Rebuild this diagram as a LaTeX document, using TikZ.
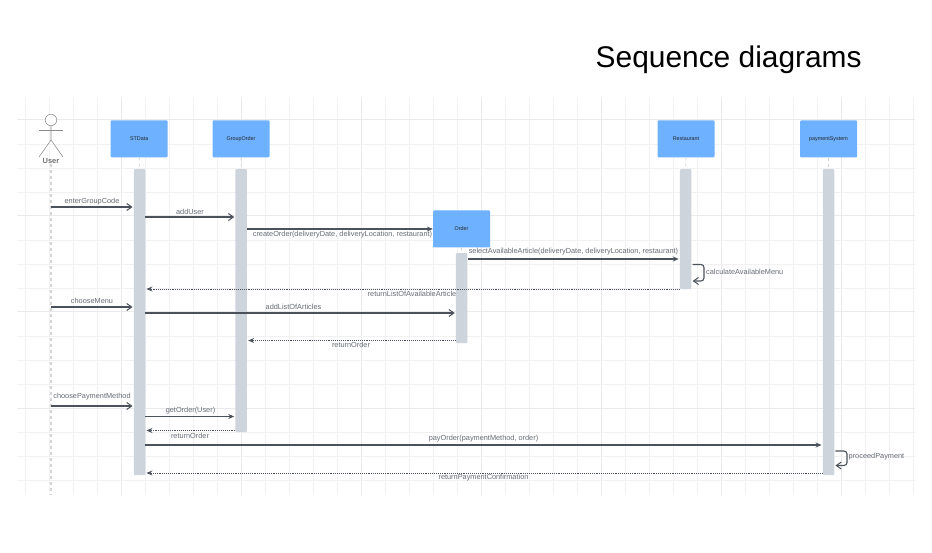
\documentclass[tikz,border=0pt]{standalone}
\usepackage{fontspec}
\setmainfont{Liberation Sans}
\usetikzlibrary{arrows.meta,calc}
\definecolor{gridc}{HTML}{F1F1F2}
\definecolor{gridd}{HTML}{EAEAEC}
\definecolor{boxc}{HTML}{6DB1FF}
\definecolor{barc}{HTML}{CED4DC}
\definecolor{linec}{HTML}{4C525C}
\definecolor{labc}{HTML}{666B73}
\definecolor{lifec}{HTML}{D4D4D6}
\tikzset{
  classbox/.style={draw=none,fill=boxc,rounded corners=1pt,minimum width=57pt,minimum height=37pt,inner sep=0pt,font=\fontsize{5.4}{6}\selectfont,text=black!85},
  activation/.style={draw=none,fill=barc,rounded corners=1pt,minimum width=11.5pt,inner sep=0pt,anchor=north},
  msg/.style={draw=linec,line width=1.1pt,-{Straight Barb[length=5pt,width=7pt,line width=1pt]}},
  msgfill/.style={draw=linec,line width=1.1pt,-{Stealth[length=6pt,width=5pt]}},
  reply/.style={draw=linec,line width=0.9pt,densely dotted,-{Stealth[length=6pt,width=5pt]}},
  lab/.style={font=\fontsize{7.35}{8.5}\selectfont,text=labc,inner sep=0pt},
  lifeline/.style={draw=lifec,line width=1.2pt,dashed},
  actorline/.style={draw=black!45,line width=0.55pt}
}
\begin{document}
\begin{tikzpicture}[x=1pt,y=-1pt]
\useasboundingbox (0,0) rectangle (932,553);
\fill[white] (0,0) rectangle (932,553);
% grid
\foreach \x in {25,49,73,97,145,169,193,217,265,289,313,337,385,409,433,457,505,529,553,577,625,649,673,697,745,769,793,817,865,889,913}
  \draw[gridc,line width=0.9pt] (\x,98) -- (\x,495);
\foreach \x in {121,241,361,481,601,721,841}
  \draw[gridd,line width=1pt] (\x,98) -- (\x,495);
\foreach \y in {144,168,192,240,264,288,336,360,384,432,456,480}
  \draw[gridc,line width=0.9pt] (17,\y) -- (915,\y);
\foreach \y in {120,216,312,408}
  \draw[gridd,line width=1pt] (17,\y) -- (915,\y);
% title
\node[font=\fontsize{29.9}{36}\selectfont,text=black,inner sep=0pt] (title) at (728.7,59.5) {Sequence diagrams};
% actor
\node[draw=black!45,line width=0.55pt,circle,fill=white,minimum size=11.5pt,inner sep=0pt] (head) at (51,120) {};
\coordinate (hip) at (51,140);
\coordinate (armL) at (39,130);
\coordinate (armR) at (63,130);
\coordinate (footL) at (39,157);
\coordinate (footR) at (63,157);
\coordinate (lifeEnd) at (51,495);
\node[font=\fontsize{7.5}{9}\selectfont\bfseries,text=black!55,inner sep=0pt] (user) at (51,161) {User};
% participants
\node[classbox] (st) at (139.2,138.8) {STData};
\node[classbox] (go) at (241,138.8) {GroupOrder};
\node[classbox] (ord) at (461.5,229) {Order};
\node[classbox] (res) at (686,138.8) {Restaurant};
\node[classbox] (pay) at (828.5,139) {paymentSystem};
% lifelines
\draw[lifeline] (user.south) -- (lifeEnd);
\node[activation,minimum height=306pt] (bst) at (139.5,169) {};
\node[activation,minimum height=263pt] (bgo) at (241.2,169) {};
\node[activation,minimum height=90pt] (bord) at (461.7,253) {};
\node[activation,minimum height=120pt] (bres) at (685.7,169) {};
\node[activation,minimum height=306pt] (bpay) at (828.5,169) {};
\draw[lifeline,line width=0.7pt] (st.south) -- (bst.north);
\draw[lifeline,line width=0.7pt] (go.south) -- (bgo.north);
\draw[lifeline,line width=0.7pt] (ord.south) -- ($(bord.north)+(0,10)$);
\draw[lifeline,line width=0.7pt] (res.south) -- (bres.north);
\draw[lifeline,line width=0.7pt] (pay.south) -- (bpay.north);
% actor body
\draw[actorline] (head.south) -- (hip) -- (footL);
\draw[actorline] (hip) -- (footR);
\draw[actorline] (armL) -- (armR);
% messages
\draw[msg] (user.center |- 0,207) -- ([xshift=-1pt]bst.west |- 0,207);
\node[lab] (m1) at (92,201.5) {enterGroupCode};
\draw[msg] (bst.east |- 0,217) -- ([xshift=-1pt]bgo.west |- 0,217);
\node[lab] (m2) at (190,211.5) {addUser};
\draw[msgfill] (bgo.east |- 0,229) -- (ord.west |- 0,229);
\node[lab] (m3) at (342.5,235) {createOrder(deliveryDate, deliveryLocation, restaurant)};
\draw[msgfill] (bord.east |- 0,259) -- ([xshift=-1pt]bres.west |- 0,259);
\node[lab] (m4) at (573.5,251.5) {selectAvailableArticle(deliveryDate, deliveryLocation, restaurant)};
\draw[msg,rounded corners=3pt] ([xshift=1pt]bres.east |- 0,264.5) -- (704,264.5) -- (704,281) -- ([xshift=1pt]bres.east |- 0,281);
\node[lab,anchor=west] (m5) at (706,272) {calculateAvailableMenu};
\draw[reply] (bres.west |- 0,289) -- ([xshift=1pt]bst.east |- 0,289);
\node[lab] (m6) at (412,294) {returnListOfAvailableArticle};
\draw[msg] (user.center |- 0,307) -- ([xshift=-1pt]bst.west |- 0,307);
\node[lab] (m7) at (92,301) {chooseMenu};
\draw[msg] (bst.east |- 0,313) -- ([xshift=-1pt]bord.west |- 0,313);
\node[lab] (m8) at (293.5,306.5) {addListOfArticles};
\draw[reply] (bord.west |- 0,340.5) -- ([xshift=1pt]bgo.east |- 0,340.5);
\node[lab] (m9) at (351,345) {returnOrder};
\draw[msg] (user.center |- 0,406) -- ([xshift=-1pt]bst.west |- 0,406);
\node[lab] (m10) at (92,397) {choosePaymentMethod};
\draw[msgfill] (bst.east |- 0,416.5) -- ([xshift=-1pt]bgo.west |- 0,416.5);
\node[lab] (m11) at (190.5,410.5) {getOrder(User)};
\draw[reply] (bgo.west |- 0,430.5) -- ([xshift=1pt]bst.east |- 0,430.5);
\node[lab] (m12) at (190,435.5) {returnOrder};
\draw[msgfill] (bst.east |- 0,445) -- ([xshift=-1pt]bpay.west |- 0,445);
\node[lab] (m13) at (483.5,439) {payOrder(paymentMethod, order)};
\draw[msg,rounded corners=3pt] ([xshift=1pt]bpay.east |- 0,451) -- (847,451) -- (847,465.5) -- ([xshift=1pt]bpay.east |- 0,465.5);
\node[lab,anchor=west] (m14) at (848.5,457) {proceedPayment};
\draw[reply] (bpay.west |- 0,473) -- ([xshift=1pt]bst.east |- 0,473);
\node[lab] (m15) at (483.5,478) {returnPaymentConfirmation};
\end{tikzpicture}
\end{document}
